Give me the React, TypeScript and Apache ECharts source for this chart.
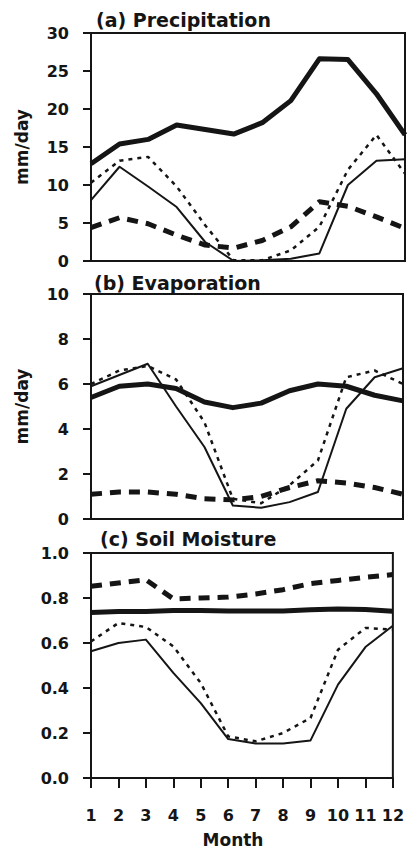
import React, { useEffect, useRef } from "react";
import * as echarts from "echarts";

const months = [1, 2, 3, 4, 5, 6, 7, 8, 9, 10, 11, 12];

// (a) Precipitation, mm/day
const precipThick = [12.8, 15.4, 16.0, 17.9, 17.3, 16.7, 18.2, 21.1, 26.6, 26.5, 22.0, 16.6];
const precipThin = [8.0, 12.4, 9.8, 7.1, 2.5, 0.0, 0.1, 0.3, 1.0, 10.0, 13.2, 13.4];
const precipDotted = [10.3, 13.2, 13.7, 9.8, 4.7, 0.1, 0.1, 1.4, 4.5, 12.0, 16.6, 11.5];
const precipDashed = [4.4, 5.7, 4.9, 3.4, 2.1, 1.7, 2.7, 4.5, 7.8, 7.2, 5.8, 4.3];

// (b) Evaporation, mm/day
const evapThick = [5.4, 5.9, 6.0, 5.8, 5.2, 4.95, 5.15, 5.7, 6.0, 5.9, 5.5, 5.25];
const evapThin = [5.9, 6.4, 6.9, 5.0, 3.2, 0.6, 0.5, 0.75, 1.2, 4.9, 6.3, 6.7];
const evapDotted = [6.0, 6.6, 6.8, 6.2, 4.3, 0.9, 0.7, 1.5, 2.6, 6.3, 6.6, 6.0];
const evapDashed = [1.1, 1.2, 1.2, 1.1, 0.9, 0.85, 1.0, 1.4, 1.7, 1.6, 1.4, 1.1];

// (c) Soil Moisture
const soilThick = [0.736, 0.74, 0.74, 0.744, 0.744, 0.742, 0.742, 0.742, 0.748, 0.751, 0.749, 0.741];
const soilThin = [0.563, 0.6, 0.615, 0.467, 0.333, 0.173, 0.153, 0.153, 0.167, 0.415, 0.582, 0.677];
const soilDotted = [0.607, 0.689, 0.671, 0.585, 0.422, 0.185, 0.163, 0.2, 0.267, 0.57, 0.667, 0.66];
const soilDashed = [0.852, 0.867, 0.881, 0.796, 0.8, 0.804, 0.818, 0.837, 0.864, 0.878, 0.892, 0.904];

const titles = ["(a) Precipitation", "(b) Evaporation", "(c) Soil Moisture"];
const yName = "mm/day";
const xName = "Month";

const INK = "#151515";
const FONT = "DejaVu Sans";

const pairs = (vals: number[]) => months.map((m, i) => [m, vals[i]]);

export default function App() {
  const ref = useRef<HTMLDivElement>(null);

  useEffect(() => {
    if (!ref.current) return;
    const chart = echarts.init(ref.current, null, { renderer: "svg" });

    const grids = [
      { left: 91, top: 33, width: 314, height: 228 },
      { left: 91, top: 294, width: 312, height: 225 },
      { left: 91, top: 553, width: 310, height: 225 },
    ];

    const yRanges = [
      { min: 0, max: 30, interval: 5, fmt: (v: number) => String(v) },
      { min: 0, max: 10, interval: 2, fmt: (v: number) => String(v) },
      { min: 0, max: 1, interval: 0.2, fmt: (v: number) => v.toFixed(1) },
    ];

    const styles = [
      { width: 5, type: "solid" as any },
      { width: 2, type: "solid" as any },
      { width: 2.5, type: [4, 5] as any },
      { width: 5, type: [11, 8] as any },
    ];

    const panelData = [
      [precipThick, precipThin, precipDotted, precipDashed],
      [evapThick, evapThin, evapDotted, evapDashed],
      [soilThick, soilThin, soilDotted, soilDashed],
    ];

    const series: any[] = [];
    panelData.forEach((arrs, p) => {
      arrs.forEach((vals, k) => {
        series.push({
          type: "line",
          xAxisIndex: p,
          yAxisIndex: p,
          data: pairs(vals),
          symbol: "none",
          lineStyle: { color: INK, width: styles[k].width, type: styles[k].type, cap: "butt", join: "round" },
          z: 2,
        });
      });
    });

    const titleCfg = [
      { left: 96, top: 10 },
      { left: 94, top: 273 },
      { left: 100, top: 529 },
    ];

    const option: any = {
      animation: false,
      backgroundColor: "#ffffff",
      title: titles.map((t, i) => ({
        text: t,
        left: titleCfg[i].left,
        top: titleCfg[i].top,
        padding: 0,
        textStyle: { fontFamily: FONT, fontWeight: "bold", fontSize: 19, color: INK, lineHeight: 20 },
      })),
      graphic: [
        {
          type: "text",
          x: 233,
          y: 840,
          style: {
            text: xName,
            fontFamily: FONT,
            fontWeight: "bold",
            fontSize: 17,
            fill: INK,
            align: "center",
            verticalAlign: "middle",
          },
        },
      ],
      grid: grids.map((g) => ({ ...g, show: true, borderColor: INK, borderWidth: 2, backgroundColor: "transparent" })),
      xAxis: grids.map((_, i) => ({
        type: "value",
        gridIndex: i,
        min: 1,
        max: 12,
        interval: 1,
        splitLine: { show: false },
        axisLine: { show: true, lineStyle: { color: INK, width: 2 } },
        axisTick: { show: i === 2, length: 10, lineStyle: { color: INK, width: 2 } },
        axisLabel: {
          show: i === 2,
          margin: 29,
          fontFamily: FONT,
          fontWeight: "bold",
          fontSize: 16,
          color: INK,
        },
      })),
      yAxis: grids.map((_, i) => ({
        type: "value",
        gridIndex: i,
        min: yRanges[i].min,
        max: yRanges[i].max,
        interval: yRanges[i].interval,
        splitLine: { show: false },
        axisLine: { show: true, lineStyle: { color: INK, width: 2 } },
        axisTick: { show: true, length: 8, lineStyle: { color: INK, width: 2 } },
        axisLabel: {
          margin: 22,
          formatter: yRanges[i].fmt,
          fontFamily: FONT,
          fontWeight: "bold",
          fontSize: 16,
          color: INK,
        },
        name: i < 2 ? yName : "",
        nameLocation: "middle",
        nameGap: 61,
        nameTextStyle: { fontFamily: FONT, fontWeight: "bold", fontSize: 17, color: INK },
      })),
      series,
    };

    chart.setOption(option);
    return () => chart.dispose();
  }, []);

  return (
    <div
      ref={ref}
      style={{ position: "absolute", left: 0, top: 0, width: 407, height: 850, background: "#fff" }}
    />
  );
}
